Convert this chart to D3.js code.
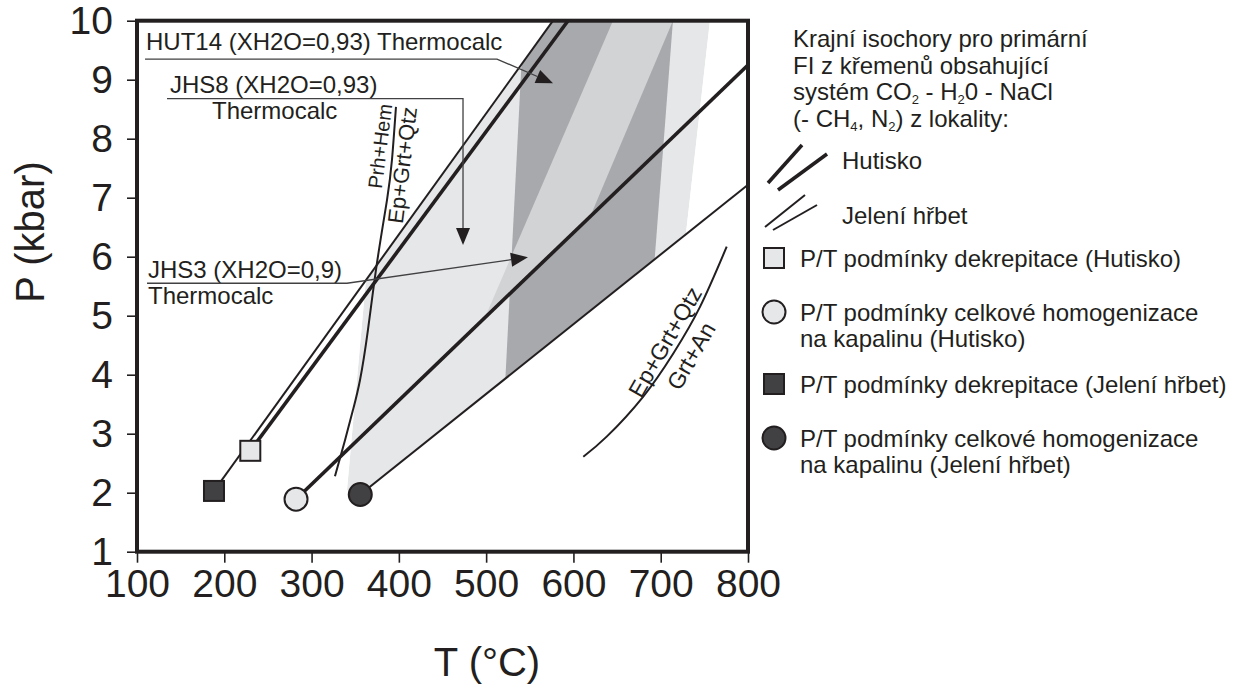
<!DOCTYPE html>
<html>
<head>
<meta charset="utf-8">
<style>
  body { margin: 0; background: #fff; font-family: "Liberation Sans", Arial, sans-serif; }
  svg text { fill: #231f20; }
</style>
</head>
<body>
<svg id="chart" width="1235" height="691"></svg>
<script src="https://cdnjs.cloudflare.com/ajax/libs/d3/7.8.5/d3.min.js"></script>
<script>
// axes
const tempTicks = [100, 200, 300, 400, 500, 600, 700, 800];
const presTicks = [1, 2, 3, 4, 5, 6, 7, 8, 9, 10];

// shaded P/T fields [T, P]
const fieldEnvelope = [[340.6, 2.05], [362.3, 5.61], [576.6, 10], [756.4, 10], [728.9, 6.39], [355.8, 1.97]];
const fieldSteep = [[543, 10], [714, 10], [689.5, 5.27], [519.6, 3.23]];
const fieldOblique = [[645.3, 10], [714, 10], [620.1, 6.71], [501.0, 5.05]];

// extreme isochores
const hutiskoIsochores = [
  [[229.8, 2.71], [593.8, 10]],
  [[282.2, 1.89], [800, 9.25]]
];
const jeleniIsochores = [
  [[188.2, 2.03], [576.6, 10]],
  [[355.8, 1.97], [800, 7.22]]
];

// reaction curves
const prhHemCurve = [[326.8, 2.28], [338.3, 2.89], [347.4, 3.40], [355.5, 3.91], [364.6, 4.76], [374.9, 5.89], [386.4, 6.96], [392.1, 7.64], [396.7, 8.54]];
const epGrtCurve = [[611.3, 2.61], [638.1, 2.95], [680.0, 3.63], [714.4, 4.36], [745.0, 5.15], [775.6, 6.17]];

// P/T points
const points = [
  { name: "dekrepitace Hutisko", t: 229.8, p: 2.71, shape: "square", fill: "#e6e7e8" },
  { name: "homogenizace Hutisko", t: 282.2, p: 1.89, shape: "circle", fill: "#e6e7e8" },
  { name: "dekrepitace Jeleni", t: 188.2, p: 2.03, shape: "square", fill: "#414042" },
  { name: "homogenizace Jeleni", t: 355.8, p: 1.97, shape: "circle", fill: "#414042" }
];

// annotations (data units)
const notes = [
  { lines: [{ text: "HUT14 (XH2O=0,93) Thermocalc", t: 110.3, p: 9.50 }],
    leader: [[109.2, 9.35], [512.4, 9.35], [576.6, 8.94]] },
  { lines: [{ text: "JHS8 (XH2O=0,93)", t: 137.8, p: 8.775 }, { text: "Thermocalc", t: 185.9, p: 8.33 }],
    leader: [[134.4, 8.68], [473.5, 8.68], [473.5, 6.20]] },
  { lines: [{ text: "JHS3 (XH2O=0,9)", t: 112.6, p: 5.64 }, { text: "Thermocalc", t: 112.6, p: 5.20 }],
    leader: [[111.5, 5.55], [340.6, 5.55], [547.9, 5.99]] }
];

const legendHeader = [
  [{ s: "Krajní isochory pro primární" }],
  [{ s: "FI z křemenů obsahující" }],
  [{ s: "systém CO" }, { s: "2", sub: true }, { s: " - H" }, { s: "2", sub: true }, { s: "0 - NaCl" }],
  [{ s: "(- CH" }, { s: "4", sub: true }, { s: ", N" }, { s: "2", sub: true }, { s: ") z lokality:" }]
];
const legendPoints = [
  ["P/T podmínky dekrepitace (Hutisko)"],
  ["P/T podmínky celkové homogenizace", "na kapalinu (Hutisko)"],
  ["P/T podmínky dekrepitace (Jelení hřbet)"],
  ["P/T podmínky celkové homogenizace", "na kapalinu (Jelení hřbet)"]
];

const ink = "#231f20";
const svg = d3.select("#chart");
svg.append("rect").attr("width", 1235).attr("height", 691).attr("fill", "#fff");

const x = d3.scaleLinear().domain([100, 800]).range([137, 748]);
const y = d3.scaleLinear().domain([1, 10]).range([551.7, 20.7]);
const line = d3.line().x(d => x(d[0])).y(d => y(d[1]));
const smooth = d3.line().x(d => x(d[0])).y(d => y(d[1])).curve(d3.curveNatural);

// shading
svg.append("clipPath").attr("id", "env")
  .append("path").attr("d", line(fieldEnvelope) + "Z");
const shade = svg.append("g").attr("clip-path", "url(#env)");
shade.append("path").attr("d", line(fieldEnvelope) + "Z").attr("fill", "#e6e7e8");
shade.append("path").attr("d", line(fieldSteep) + "Z").attr("fill", "#a7a9ac");
shade.append("path").attr("d", line(fieldOblique) + "Z").attr("fill", "#d1d3d4");

// reaction curves
svg.append("path").attr("d", smooth(prhHemCurve)).attr("fill", "none").attr("stroke", ink).attr("stroke-width", 2);
svg.append("path").attr("d", smooth(epGrtCurve)).attr("fill", "none").attr("stroke", ink).attr("stroke-width", 2);

// isochores
jeleniIsochores.forEach(seg => {
  svg.append("path").attr("d", line(seg)).attr("fill", "none").attr("stroke", ink).attr("stroke-width", 2);
});
hutiskoIsochores.forEach(seg => {
  svg.append("path").attr("d", line(seg)).attr("fill", "none").attr("stroke", ink).attr("stroke-width", 3.6);
});

// reaction labels
function rotLabel(txt, px, py, ang, size) {
  svg.append("text")
    .attr("transform", `translate(${px},${py}) rotate(${ang})`)
    .attr("text-anchor", "middle")
    .style("font-size", size + "px")
    .text(txt);
}
rotLabel("Prh+Hem", 387, 147, -83, 20);
rotLabel("Ep+Grt+Qtz", 410, 166, -83, 22);
rotLabel("Ep+Grt+Qtz", 672, 346, -60, 23);
rotLabel("Grt+An", 698, 360, -60, 23);

// annotations
notes.forEach(n => {
  n.lines.forEach(l => {
    svg.append("text").attr("x", x(l.t)).attr("y", y(l.p))
      .style("font-size", "24px").text(l.text);
  });
  const pts = n.leader.map(d => [x(d[0]), y(d[1])]);
  const a = pts[pts.length - 2], b = pts[pts.length - 1];
  const ang = Math.atan2(b[1] - a[1], b[0] - a[0]);
  const len = 17, hw = 7;
  const base = [b[0] - len * Math.cos(ang), b[1] - len * Math.sin(ang)];
  const lineEnd = pts.slice(0, -1).concat([base]);
  svg.append("path").attr("d", d3.line()(lineEnd)).attr("fill", "none")
    .attr("stroke", "#414042").attr("stroke-width", 1.3);
  const head = [
    b,
    [base[0] + hw * Math.sin(ang), base[1] - hw * Math.cos(ang)],
    [base[0] - hw * Math.sin(ang), base[1] + hw * Math.cos(ang)]
  ];
  svg.append("path").attr("d", d3.line()(head) + "Z").attr("fill", ink);
});

// P/T points
function drawMarker(g, shape, fill, cx, cy) {
  if (shape === "square") {
    g.append("rect").attr("x", cx - 10).attr("y", cy - 10).attr("width", 20).attr("height", 20)
      .attr("fill", fill).attr("stroke", ink).attr("stroke-width", 2);
  } else {
    g.append("circle").attr("cx", cx).attr("cy", cy).attr("r", 11.5)
      .attr("fill", fill).attr("stroke", ink).attr("stroke-width", 2);
  }
}
points.forEach(d => drawMarker(svg, d.shape, d.fill, x(d.t), y(d.p)));

// frame and axes
svg.append("rect").attr("x", x(100)).attr("y", y(10))
  .attr("width", x(800) - x(100)).attr("height", y(1) - y(10))
  .attr("fill", "none").attr("stroke", ink).attr("stroke-width", 4);

const xAxis = svg.append("g").attr("transform", `translate(0,${y(1)})`)
  .call(d3.axisBottom(x).tickValues(tempTicks).tickSize(11).tickPadding(7).tickSizeOuter(0));
const yAxis = svg.append("g").attr("transform", `translate(${x(100)},0)`)
  .call(d3.axisLeft(y).tickValues(presTicks).tickSize(10).tickPadding(14).tickSizeOuter(0));
[xAxis, yAxis].forEach(g => {
  g.select(".domain").remove();
  g.selectAll("line").attr("stroke", ink).attr("stroke-width", 1.6);
  g.selectAll("text").style("font-size", "39px").style("font-family", "'Liberation Sans', Arial, sans-serif").attr("fill", ink);
});

svg.append("text").attr("x", 487).attr("y", 676).attr("text-anchor", "middle")
  .style("font-size", "40px").text("T (°C)");
svg.append("text").attr("transform", "translate(44,232) rotate(-90)").attr("text-anchor", "middle")
  .style("font-size", "40px").text("P (kbar)");

// legend
const lg = svg.append("g").style("font-size", "24px");
legendHeader.forEach((parts, i) => {
  const t = lg.append("text").attr("x", 793).attr("y", 47 + i * 26.7);
  parts.forEach(p => {
    if (p.sub) {
      t.append("tspan").attr("dy", 4).style("font-size", "13px").text(p.s);
    } else {
      const ts = t.append("tspan").text(p.s);
      if (t.selectAll("tspan").size() > 1) ts.attr("dy", -4);
    }
  });
});
// isochore legend icons
[[768, 183, 802, 145], [778, 190, 827, 154]].forEach(c => {
  lg.append("line").attr("x1", c[0]).attr("y1", c[1]).attr("x2", c[2]).attr("y2", c[3])
    .attr("stroke", ink).attr("stroke-width", 3.6);
});
[[765, 227, 805, 195], [773, 230, 817, 205]].forEach(c => {
  lg.append("line").attr("x1", c[0]).attr("y1", c[1]).attr("x2", c[2]).attr("y2", c[3])
    .attr("stroke", ink).attr("stroke-width", 2);
});
lg.append("text").attr("x", 842).attr("y", 169).text("Hutisko");
lg.append("text").attr("x", 842).attr("y", 224).text("Jelení hřbet");

const legendY = [258, 312, 384, 438];
points.forEach((d, i) => {
  drawMarker(lg, d.shape, d.fill, 774, legendY[i]);
  legendPoints[i].forEach((s, j) => {
    lg.append("text").attr("x", 800).attr("y", legendY[i] + 8.5 + j * 26.5).text(s);
  });
});
</script>
</body>
</html>
